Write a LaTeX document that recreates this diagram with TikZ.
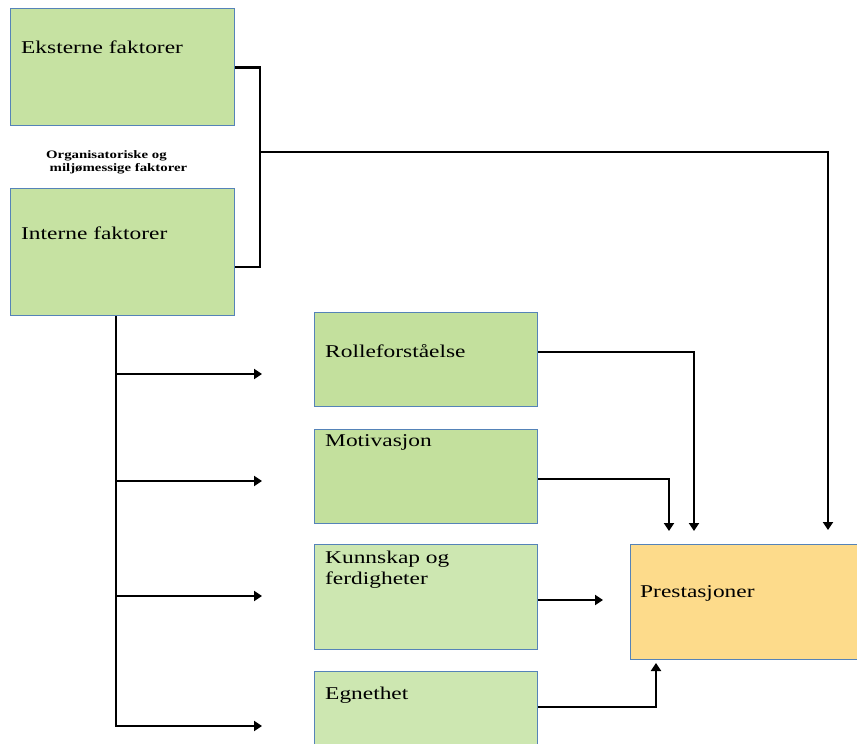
\documentclass[tikz,border=0pt]{standalone}
\usepackage{fontspec}
\setmainfont{Liberation Serif}[FakeStretch=1.3]
\usetikzlibrary{arrows.meta}

\definecolor{greenA}{HTML}{C6E2A2}
\definecolor{greenB}{HTML}{C3E09D}
\definecolor{greenC}{HTML}{CDE7B1}
\definecolor{orangeA}{HTML}{FDDB8B}
\definecolor{edgeblue}{HTML}{5583B8}

\begin{document}
\begin{tikzpicture}[x=1pt,y=-1pt,
  box/.style={draw=edgeblue, line width=1.1pt, rectangle, inner sep=0pt, anchor=north west},
  txt/.style={anchor=west, inner sep=0pt, font=\fontsize{18}{21}\selectfont, align=left},
  link/.style={line width=2.9pt, line join=miter},
  tip/.style={-{Triangle[length=8pt,width=10pt]}}]

\useasboundingbox (0,0) rectangle (857,744);

% factor boxes
\node[box, fill=greenA, minimum width=224pt, minimum height=117pt] (eks) at (10,8) {};
\node[box, fill=greenA, minimum width=224pt, minimum height=127pt] (int) at (10,188) {};
\node[box, fill=greenB, minimum width=223pt, minimum height=94pt] (rol) at (314,312) {};
\node[box, fill=greenB, minimum width=223pt, minimum height=94pt] (mot) at (314,429) {};
\node[box, fill=greenC, minimum width=223pt, minimum height=105pt] (kun) at (314,544) {};
\node[box, fill=greenC, minimum width=223pt, minimum height=100pt] (egn) at (314,671) {};
\node[box, fill=orangeA, minimum width=250pt, minimum height=115pt] (pre) at (630,544) {};

% labels
\node[txt] (eksT) at (21,47) {Eksterne faktorer};
\node[txt] (intT) at (21,233) {Interne faktorer};
\node[anchor=west, inner sep=0pt, align=left, font=\fontsize{11.4}{13}\bfseries\selectfont] (orgT) at (46,162)
  {Organisatoriske og\\\hspace*{3.5pt}miljømessige faktorer};
\node[txt] (rolT) at (325,351) {Rolleforståelse};
\node[txt] (motT) at (325,442) {Motivasjon};
\node[txt] (kunT) at (325,570) {Kunnskap og\\ferdigheter};
\node[txt] (egnT) at (325,695) {Egnethet};
\node[txt] (preT) at (640,593) {Prestasjoner};

% junction points and free arrow ends
\coordinate (jx) at (260,152);
\coordinate (pend) at (828,530);
\coordinate (t1) at (116,374);
\coordinate (t2) at (116,481);
\coordinate (t3) at (116,596);
\coordinate (b1) at (262,374);
\coordinate (b2) at (262,481);
\coordinate (b3) at (262,596);
\coordinate (b4) at (262,726);
\coordinate (rEnd) at (694,531);
\coordinate (mEnd) at (669,531);
\coordinate (kEnd) at (603,600);
\coordinate (eEnd) at (656,663);

% external and internal factors to performance
\draw[link] (eks.east) -| (jx);
\draw[link] (int.east |- 0,267) -| (jx);
\draw[link,tip] (jx) -| (pend);

% internal factors fan out
\draw[link,tip] (int.south -| 116,0) |- (b4);
\draw[link,tip] (t1) -- (b1);
\draw[link,tip] (t2) -- (b2);
\draw[link,tip] (t3) -- (b3);

% individual factors to performance
\draw[link,tip] (rol.east |- 0,352) -| (rEnd);
\draw[link,tip] (mot.east |- 0,479) -| (mEnd);
\draw[link,tip] (kun.east |- 0,600) -- (kEnd);
\draw[link,tip] (egn.east |- 0,707) -| (eEnd);

\end{tikzpicture}
\end{document}
